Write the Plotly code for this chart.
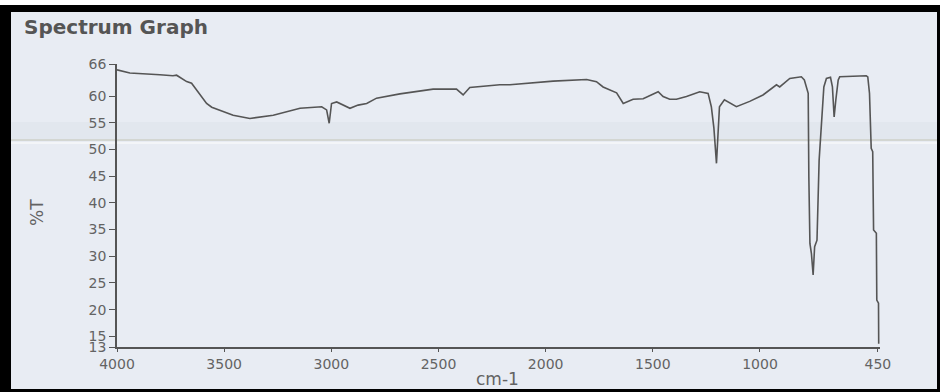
import plotly.graph_objects as go

# Data
wavenumber = [4000, 3940, 3800, 3739, 3722, 3675, 3652, 3582, 3558, 3458, 3380, 3271, 3146,
              3045, 3022, 3010, 2999, 2975, 2913, 2875, 2835, 2789, 2680, 2525, 2416, 2385,
              2354, 2214, 2167, 1965, 1809, 1763, 1732, 1701, 1669, 1638, 1592, 1545, 1483,
              1475, 1452, 1421, 1390, 1343, 1281, 1242, 1227, 1215, 1203, 1196, 1189, 1166,
              1110, 1048, 986, 923, 908, 861, 807, 793, 775, 772, 767, 760, 752, 745, 734,
              724, 713, 702, 690, 671, 662, 654, 646, 635, 628, 504, 497, 489, 481, 474, 470,
              457, 455, 447, 446]
transmittance = [64.9, 64.3, 64.0, 63.8, 63.9, 62.7, 62.4, 58.6, 57.9, 56.4, 55.8, 56.4, 57.7,
                 58.0, 57.4, 54.9, 58.6, 58.9, 57.7, 58.3, 58.6, 59.6, 60.4, 61.3, 61.3, 60.2,
                 61.6, 62.1, 62.1, 62.8, 63.1, 62.7, 61.7, 61.1, 60.6, 58.6, 59.4, 59.5, 60.6,
                 60.8, 59.9, 59.4, 59.4, 59.9, 60.8, 60.5, 58.0, 54.0, 47.4, 54.0, 58.0, 59.3,
                 58.0, 59.0, 60.2, 62.1, 61.7, 63.3, 63.6, 63.0, 60.5, 44.9, 32.4, 30.5, 26.5,
                 31.8, 33.0, 48.0, 54.3, 61.7, 63.3, 63.5, 61.7, 56.1, 59.3, 63.0, 63.6, 63.8,
                 63.6, 60.5, 50.2, 49.6, 34.9, 34.3, 21.8, 21.2, 13.6]

x_tickvals = [4000, 3500, 3000, 2500, 2000, 1500, 1000, 450]
y_tickvals = [13, 15, 20, 25, 30, 35, 40, 45, 50, 55, 60, 66]

W, H = 940, 392
L, R, T, B = 117, 60, 64, 45
pw, ph = W - L - R, H - T - B


def px(x):
    return (x - L) / pw


def py(y):
    return (H - B - y) / ph


bg = "#e8ecf3"
grey = "#636363"
FONT = "DejaVu Sans, Verdana, sans-serif"

fig = go.Figure()
fig.add_trace(go.Scatter(x=wavenumber, y=transmittance, mode="lines",
                         line=dict(color="#555555", width=1.6), showlegend=False))

axis_common = dict(showgrid=False, zeroline=False, showline=True, linecolor="#555555",
                   linewidth=1.5, ticks="outside", tickcolor="#555555",
                   tickfont=dict(family=FONT, size=14, color=grey))

fig.update_layout(
    width=W, height=H,
    margin=dict(l=L, r=R, t=T, b=B),
    paper_bgcolor=bg, plot_bgcolor=bg,
    xaxis=dict(range=[4000, 440], tickvals=x_tickvals, ticklen=3,
               ticktext=[str(v) for v in x_tickvals], **axis_common),
    yaxis=dict(range=[13, 66], tickvals=y_tickvals, ticklen=6,
               ticktext=[str(v) for v in y_tickvals], **axis_common),
)

shapes = [
    # scanner fold band
    dict(type="rect", xref="paper", yref="paper", x0=px(0), x1=px(W), y0=py(140), y1=py(122),
         fillcolor="rgba(170,175,180,0.08)", line=dict(width=0), layer="below"),
    dict(type="line", xref="paper", yref="paper", x0=px(0), x1=px(W), y0=py(140), y1=py(140),
         line=dict(color="#d3d6d2", width=2), layer="below"),
    dict(type="line", xref="paper", yref="paper", x0=px(0), x1=px(W), y0=py(143), y1=py(143),
         line=dict(color="#f3f5f8", width=2), layer="below"),
    # white strip at top
    dict(type="rect", xref="paper", yref="paper", x0=px(0), x1=px(W), y0=py(5), y1=py(0),
         fillcolor="white", line=dict(width=0)),
    # black frame
    dict(type="rect", xref="paper", yref="paper", x0=px(0), x1=px(W), y0=py(12), y1=py(5),
         fillcolor="black", line=dict(width=0)),
    dict(type="rect", xref="paper", yref="paper", x0=px(0), x1=px(11), y0=py(H), y1=py(5),
         fillcolor="black", line=dict(width=0)),
    dict(type="rect", xref="paper", yref="paper", x0=px(0), x1=px(W), y0=py(H), y1=py(389),
         fillcolor="black", line=dict(width=0)),
    dict(type="rect", xref="paper", yref="paper", x0=px(937), x1=px(W), y0=py(H), y1=py(5),
         fillcolor="black", line=dict(width=0)),
]
fig.update_layout(shapes=shapes)

fig.add_annotation(text="<b>Spectrum Graph</b>", xref="paper", yref="paper",
                   x=px(22), y=py(27), xanchor="left", yanchor="middle", showarrow=False,
                   font=dict(family=FONT, size=20, color="#555555"))
fig.add_annotation(text="%T", xref="paper", yref="paper", x=px(37), y=py(213),
                   textangle=-90, showarrow=False, xanchor="center", yanchor="middle",
                   font=dict(family=FONT, size=17, color=grey))
fig.add_annotation(text="cm-1", xref="paper", yref="paper", x=px(497), y=py(379),
                   showarrow=False, xanchor="center", yanchor="middle",
                   font=dict(family=FONT, size=17, color=grey))

fig.write_html("out.html", config={"displayModeBar": False},
               post_script="document.body.style.margin='0';")
